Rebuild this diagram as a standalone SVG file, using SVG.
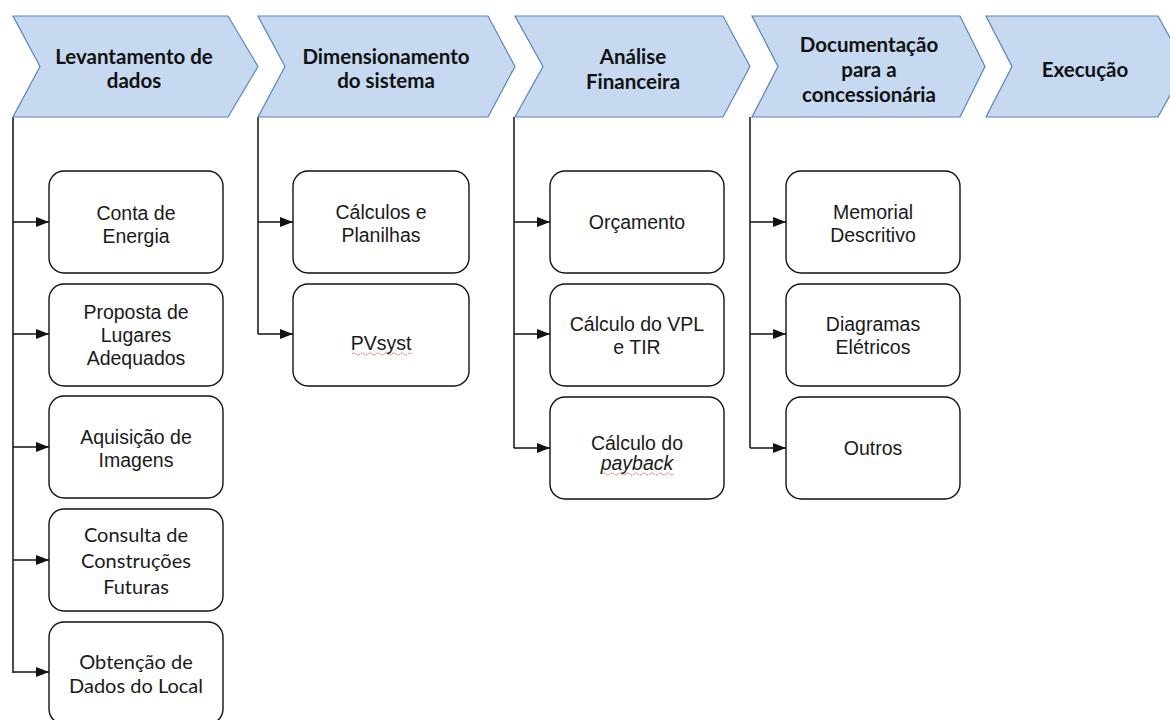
<svg xmlns="http://www.w3.org/2000/svg" width="1170" height="720" viewBox="0 0 1170 720">
<defs>
<style>
.chev{fill:#c6d9f0;stroke:#5b83b9;stroke-width:1.2}
.ct{font-family:Lato,"Open Sans",sans-serif;font-weight:bold;font-size:20.5px;fill:#111;text-anchor:middle}
.box{fill:#fff;stroke:#111;stroke-width:1.4}
.bt{font-family:"Liberation Sans",Arial,sans-serif;font-size:19.5px;fill:#1a1a1a;text-anchor:middle}
.bc{font-family:Lato,"Open Sans",sans-serif;font-size:20px;fill:#1a1a1a;text-anchor:middle}
.ln{fill:none;stroke:#111;stroke-width:1.5}
.sq{fill:none;stroke:#d04040;stroke-width:0.9;stroke-dasharray:1.5 1}
</style>
<marker id="ah" markerWidth="13" markerHeight="10" refX="13" refY="5" orient="auto" markerUnits="userSpaceOnUse">
<path d="M0,0 L13,5 L0,10 Z" fill="#111"/>
</marker>
</defs>

<g id="connectors">
<path class="ln" d="M13,117 V673"/>
<path class="ln" marker-end="url(#ah)" d="M13,222 H49"/>
<path class="ln" marker-end="url(#ah)" d="M13,334 H49"/>
<path class="ln" marker-end="url(#ah)" d="M13,447 H49"/>
<path class="ln" marker-end="url(#ah)" d="M13,560 H49"/>
<path class="ln" marker-end="url(#ah)" d="M13,672 H49"/>
<path class="ln" d="M258,117 V334"/>
<path class="ln" marker-end="url(#ah)" d="M258,222 H293"/>
<path class="ln" marker-end="url(#ah)" d="M258,334 H293"/>
<path class="ln" d="M514,117 V448"/>
<path class="ln" marker-end="url(#ah)" d="M514,222 H550"/>
<path class="ln" marker-end="url(#ah)" d="M514,334 H550"/>
<path class="ln" marker-end="url(#ah)" d="M514,448 H550"/>
<path class="ln" d="M750,117 V448"/>
<path class="ln" marker-end="url(#ah)" d="M750,222 H786"/>
<path class="ln" marker-end="url(#ah)" d="M750,334 H786"/>
<path class="ln" marker-end="url(#ah)" d="M750,448 H786"/>
</g>

<g id="stage1">
<path class="chev" d="M13,16 L228,16 L258,66.5 L228,117 L13,117 L40,66.5 Z"/>
<text class="ct" x="134" y="64">Levantamento de</text>
<text class="ct" x="134" y="88">dados</text>
</g>
<g id="stage2">
<path class="chev" d="M258,16 L488,16 L515,66.5 L488,117 L258,117 L285,66.5 Z"/>
<text class="ct" x="386" y="64">Dimensionamento</text>
<text class="ct" x="386" y="88">do sistema</text>
</g>
<g id="stage3">
<path class="chev" d="M515,16 L723,16 L750,66.5 L723,117 L515,117 L543,66.5 Z"/>
<text class="ct" x="633" y="64">Análise</text>
<text class="ct" x="633" y="89">Financeira</text>
</g>
<g id="stage4">
<path class="chev" d="M752,16 L960,16 L985,66.5 L960,117 L752,117 L778,66.5 Z"/>
<text class="ct" x="869" y="52">Documentação</text>
<text class="ct" x="869" y="77">para a</text>
<text class="ct" x="869" y="102">concessionária</text>
</g>
<g id="stage5">
<path class="chev" d="M986,16 L1158,16 L1186,66.5 L1158,117 L986,117 L1012,66.5 Z"/>
<text class="ct" x="1085" y="77">Execução</text>
</g>

<g id="conta-energia">
<rect class="box" x="49" y="171" width="174" height="102" rx="15"/>
<text class="bt" x="136" y="220">Conta de</text>
<text class="bt" x="136" y="243">Energia</text>
</g>
<g id="proposta-lugares">
<rect class="box" x="49" y="284" width="174" height="102" rx="15"/>
<text class="bt" x="136" y="319">Proposta de</text>
<text class="bt" x="136" y="342">Lugares</text>
<text class="bt" x="136" y="365">Adequados</text>
</g>
<g id="aquisicao-imagens">
<rect class="box" x="49" y="396" width="174" height="102" rx="15"/>
<text class="bt" x="136" y="444">Aquisição de</text>
<text class="bt" x="136" y="467">Imagens</text>
</g>
<g id="consulta-construcoes">
<rect class="box" x="49" y="509" width="174" height="102" rx="15"/>
<text class="bc" x="136" y="542">Consulta de</text>
<text class="bc" x="136" y="568">Construções</text>
<text class="bc" x="136" y="594">Futuras</text>
</g>
<g id="obtencao-dados">
<rect class="box" x="49" y="622" width="174" height="102" rx="15"/>
<text class="bc" x="136" y="669">Obtenção de</text>
<text class="bc" x="136" y="693">Dados do Local</text>
</g>

<g id="calculos-planilhas">
<rect class="box" x="293" y="171" width="176" height="102" rx="15"/>
<text class="bt" x="381" y="219">Cálculos e</text>
<text class="bt" x="381" y="242">Planilhas</text>
</g>
<g id="pvsyst">
<rect class="box" x="293" y="284" width="176" height="102" rx="15"/>
<text class="bt" x="381" y="350">PVsyst</text>
<path class="sq" d="M352,354 q2,-2 4,0 t4,0 t4,0 t4,0 t4,0 t4,0 t4,0 t4,0 t4,0 t4,0 t4,0 t4,0 t4,0 t4,0 t4,0"/>
</g>

<g id="orcamento">
<rect class="box" x="550" y="171" width="174" height="102" rx="15"/>
<text class="bt" x="637" y="229">Orçamento</text>
</g>
<g id="calculo-vpl">
<rect class="box" x="550" y="284" width="174" height="102" rx="15"/>
<text class="bt" x="637" y="331">Cálculo do VPL</text>
<text class="bt" x="637" y="354">e TIR</text>
</g>
<g id="calculo-payback">
<rect class="box" x="550" y="397" width="174" height="102" rx="15"/>
<text class="bt" x="637" y="450">Cálculo do</text>
<text class="bt" x="637" y="470" font-style="italic">payback</text>
<path class="sq" d="M602,474 q2,-2 4,0 t4,0 t4,0 t4,0 t4,0 t4,0 t4,0 t4,0 t4,0 t4,0 t4,0 t4,0 t4,0 t4,0 t4,0 t4,0 t4,0 t4,0"/>
</g>

<g id="memorial">
<rect class="box" x="786" y="171" width="174" height="102" rx="15"/>
<text class="bt" x="873" y="219">Memorial</text>
<text class="bt" x="873" y="242">Descritivo</text>
</g>
<g id="diagramas">
<rect class="box" x="786" y="284" width="174" height="102" rx="15"/>
<text class="bt" x="873" y="331">Diagramas</text>
<text class="bt" x="873" y="354">Elétricos</text>
</g>
<g id="outros">
<rect class="box" x="786" y="397" width="174" height="102" rx="15"/>
<text class="bt" x="873" y="455">Outros</text>
</g>
</svg>
